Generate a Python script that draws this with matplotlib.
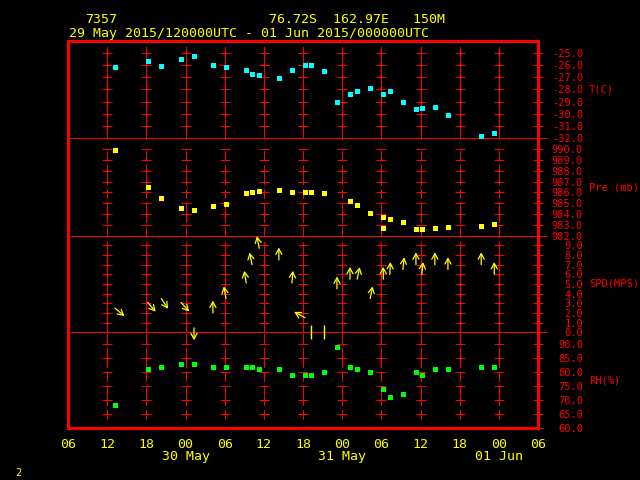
import numpy as np
import matplotlib
matplotlib.use("Agg")
from matplotlib import pyplot as plt
from matplotlib.lines import Line2D

plt.rcParams["font.family"] = "DejaVu Sans Mono"

# hours after 29 May 2015 06 UTC
obs_hours = [7.2, 12.2, 14.3, 17.3, 19.3, 22.2, 24.2, 27.3, 28.2, 29.3,
             32.3, 34.3, 36.3, 37.2, 39.2, 41.2, 43.2, 44.3, 46.3, 48.3,
             49.3, 51.3, 53.3, 54.2, 56.2, 58.2, 63.3, 65.3]
temp_c = [-26.2, -25.7, -26.1, -25.5, -25.3, -26.0, -26.2, -26.4, -26.7, -26.8,
          -27.1, -26.4, -26.0, -26.0, -26.5, -29.0, -28.4, -28.1, -27.9, -28.4,
          -28.1, -29.0, -29.6, -29.5, -29.4, -30.1, -31.8, -31.6]
rh_pct = [68.1, 80.9, 81.6, 82.7, 82.7, 81.6, 81.6, 81.6, 81.6, 80.9,
          80.9, 78.8, 78.8, 78.8, 79.8, 88.7, 81.6, 80.9, 79.8, 73.8,
          71.0, 72.0, 79.8, 78.8, 80.9, 80.9, 81.6, 81.6]
# wind speed (m/s) and direction the wind comes from (deg); calm = 0 speed
wind_spd = [2.5, 3.1, 3.5, 3.1, 0.45, 2.0, 3.5, 5.1, 7.0, 8.7,
            7.5, 5.1, 1.5, 0.0, 0.0, 4.5, 5.5, 5.5, 3.5, 5.5,
            6.0, 6.5, 7.0, 6.0, 7.0, 6.5, 7.0, 6.0]
wind_dir = [310, 319, 327, 318, 0, 180, 170, 171, 168, 169,
            180, 185, 119, np.nan, np.nan, 180, 180, 192, 191, 180,
            183, 186, 180, 186, 180, 180, 180, 180]

pres_hours = [7.2, 12.2, 14.3, 17.3, 19.3, 22.2, 24.2, 27.3, 28.2, 29.3,
              32.3, 34.3, 36.3, 37.2, 39.2, 43.2, 44.3, 46.3, 48.3, 48.3,
              49.3, 51.3, 53.3, 54.2, 56.2, 58.2, 63.3, 65.3]
pres_mb = [989.9, 986.5, 985.5, 984.6, 984.4, 984.7, 984.9, 985.9, 986.0, 986.1,
           986.2, 986.0, 986.0, 986.0, 985.9, 985.2, 984.8, 984.1, 983.7, 982.7,
           983.5, 983.3, 982.6, 982.6, 982.7, 982.8, 982.9, 983.1]

hour_ticks = list(range(0, 73, 6))
hour_labels = ["06", "12", "18", "00", "06", "12", "18", "00", "06", "12", "18", "00", "06"]
date_hours = [18, 42, 66]
date_labels = ["30 May", "31 May", "01 Jun"]

RED = "#ff0000"
YEL = "#ffff00"
CYAN = "#00ffff"
GREEN = "#00ff00"

W, H = 640, 480
fig = plt.figure(figsize=(6.4, 4.8), dpi=100, facecolor="black")


def px_axes(x0, y0, x1, y1):
    return fig.add_axes([x0 / W, 1 - y1 / H, (x1 - x0) / W, (y1 - y0) / H])


BOX_L, BOX_R = 68, 538
edges = [40.5, 138.3, 235.7, 332.3, 428]

panels = [
    dict(ylim=(-32, -24), ticks=list(range(-32, -24)), name="T(C)", name_at=-28,
         vlo=-32, vhi=-24.5, dashed=False),
    dict(ylim=(982, 991), ticks=list(range(982, 991)), name="Pre (mb)", name_at=986.5,
         vlo=982, vhi=990.3, dashed=True),
    dict(ylim=(0, 10), ticks=list(range(0, 10)), name="SPD(MPS)", name_at=5,
         vlo=0, vhi=9.35, dashed=False),
    dict(ylim=(60, 94), ticks=list(range(60, 91, 5)), name="RH(%)", name_at=76.8,
         vlo=63.1, vhi=94, dashed=True),
]

cols = hour_ticks[1:-1]
axes = []
for i, p in enumerate(panels):
    ax = px_axes(BOX_L, edges[i], BOX_R, edges[i + 1])
    ax.set_facecolor("none")
    ax.set_xlim(0, 72)
    ax.set_ylim(*p["ylim"])
    for s in ["top", "left", "right"]:
        ax.spines[s].set_visible(False)
    ax.spines["bottom"].set_color(RED)
    ax.spines["bottom"].set_linewidth(0.72)
    ax.spines["bottom"].set_visible(i < 3)

    ls = (0, (10, 5, 20, 5)) if p["dashed"] else "solid"
    ax.vlines(cols, p["vlo"], p["vhi"], colors=RED, linewidth=0.72,
              linestyles=ls, antialiased=False, zorder=1)
    cross = p["ticks"][1:]
    ax.plot(np.repeat(cols, len(cross)), np.tile(cross, len(cols)), ls="none",
            marker="_", ms=7.2, mew=0.72, color=RED, antialiased=False, zorder=1)

    ax.yaxis.tick_right()
    ax.set_yticks(p["ticks"], [f"{v:.1f}" for v in p["ticks"]])
    ax.tick_params(axis="y", direction="inout", length=7.2, width=0.72,
                   colors=RED, labelsize=7.5, pad=28.8)
    plt.setp(ax.get_yticklabels(), ha="right")
    ax.text(1.1085, p["name_at"], p["name"], transform=ax.get_yaxis_transform(),
            ha="left", va="center", color=RED, fontsize=7.5)
    ax.tick_params(axis="x", length=0, labelbottom=False)
    axes.append(ax)

ax_t, ax_p, ax_w, ax_rh = axes

ax_t.plot(obs_hours, temp_c, "s", ms=3.6, mew=0, color=CYAN, zorder=3)
ax_p.plot(pres_hours, pres_mb, "s", ms=3.6, mew=0, color=YEL, zorder=3)
ax_rh.plot(obs_hours, rh_pct, "s", ms=3.6, mew=0, color=GREEN, zorder=3)

arrow_len = 12.3
for t, s, d in zip(obs_hours, wind_spd, wind_dir):
    if s == 0:
        ax_w.plot(t, 0, marker="|", ms=9.4, mew=1, color=YEL, clip_on=False, zorder=3)
        continue
    b = np.deg2rad(d + 180)
    ax_w.annotate("", xy=(t, s), xytext=(arrow_len * np.sin(b), arrow_len * np.cos(b)),
                  textcoords="offset pixels", annotation_clip=False,
                  arrowprops=dict(arrowstyle="<-,head_length=0.4,head_width=0.22",
                                  color=YEL, lw=0.9, shrinkA=0, shrinkB=0))

ax_rh.set_xticks(hour_ticks, hour_labels)
ax_rh.tick_params(axis="x", length=0, labelbottom=True, colors=YEL,
                  labelsize=9.5, pad=7)
for h, lab in zip(date_hours, date_labels):
    ax_rh.text(h, -0.333, lab, transform=ax_rh.get_xaxis_transform(),
               ha="center", va="baseline", color=YEL, fontsize=9.5)

# outer frame
frame = px_axes(BOX_L, edges[0], BOX_R, edges[-1])
frame.set_facecolor("none")
frame.set_xticks([])
frame.set_yticks([])
for s in frame.spines.values():
    s.set_color(RED)
    s.set_linewidth(2.16)
frame.set_zorder(5)

# longer ticks where the panels meet
for y in edges[1:4]:
    fig.add_artist(Line2D([530 / W, 546 / W], [1 - y / H, 1 - y / H],
                          color=RED, lw=0.72, antialiased=False))

fig.text(85 / W, 1 - 23.3 / H, "7357", color=YEL, fontsize=9.5, va="baseline")
fig.text(268.6 / W, 1 - 23.3 / H, "76.72S  162.97E   150M", color=YEL,
         fontsize=9.5, va="baseline")
fig.text(68.6 / W, 1 - 36.5 / H, "29 May 2015/120000UTC - 01 Jun 2015/000000UTC",
         color=YEL, fontsize=9.5, va="baseline")
fig.text(15 / W, 1 - 476 / H, "2", color=YEL, fontsize=7.5, va="baseline")

fig.savefig("out.png", dpi=100, facecolor="black")
